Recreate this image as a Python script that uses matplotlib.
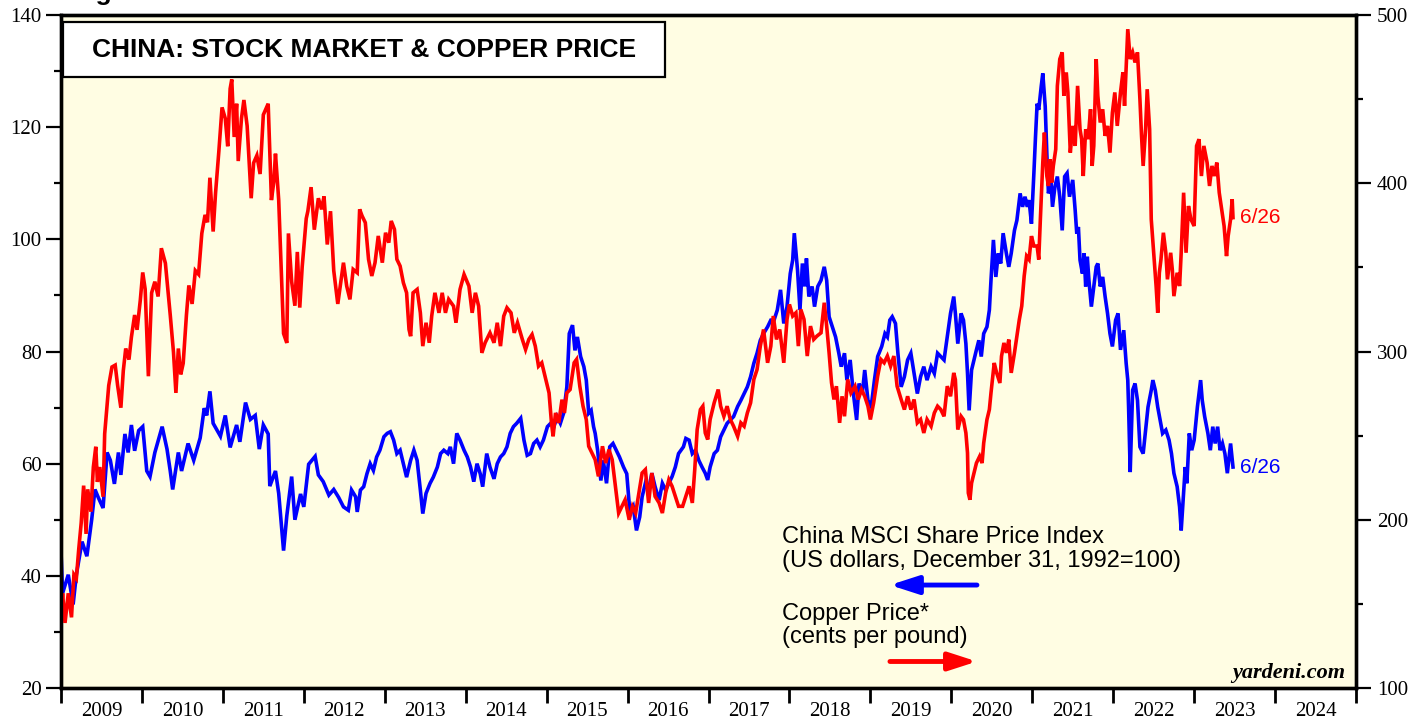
import matplotlib.pyplot as plt
from matplotlib.patches import Rectangle, FancyArrowPatch
from matplotlib.ticker import MultipleLocator, FixedLocator, NullFormatter

# China MSCI share price index (left axis), decimal years
msci_years = [
    2009.00, 2009.02, 2009.09, 2009.15, 2009.19, 2009.26, 2009.32, 2009.38, 2009.42, 2009.46,
    2009.52, 2009.57, 2009.61, 2009.66, 2009.71, 2009.74, 2009.79, 2009.83, 2009.87, 2009.91,
    2009.96, 2010.01, 2010.06, 2010.10, 2010.16, 2010.25, 2010.31, 2010.35, 2010.38, 2010.45,
    2010.49, 2010.57, 2010.64, 2010.72, 2010.77, 2010.80, 2010.84, 2010.88, 2010.97, 2011.03,
    2011.09, 2011.17, 2011.21, 2011.28, 2011.34, 2011.40, 2011.45, 2011.50, 2011.56, 2011.58,
    2011.65, 2011.69, 2011.75, 2011.79, 2011.85, 2011.89, 2011.96, 2012.00, 2012.06, 2012.14,
    2012.18, 2012.24, 2012.31, 2012.37, 2012.43, 2012.49, 2012.55, 2012.59, 2012.64, 2012.66,
    2012.70, 2012.74, 2012.78, 2012.82, 2012.86, 2012.90, 2012.94, 2012.99, 2013.03, 2013.07,
    2013.11, 2013.15, 2013.19, 2013.23, 2013.27, 2013.32, 2013.36, 2013.40, 2013.44, 2013.47,
    2013.51, 2013.56, 2013.60, 2013.65, 2013.69, 2013.73, 2013.78, 2013.81, 2013.85, 2013.89,
    2013.93, 2013.98, 2014.02, 2014.06, 2014.10, 2014.14, 2014.18, 2014.21, 2014.26, 2014.30,
    2014.35, 2014.39, 2014.43, 2014.47, 2014.51, 2014.55, 2014.59, 2014.63, 2014.68, 2014.72,
    2014.76, 2014.80, 2014.84, 2014.88, 2014.92, 2014.96, 2015.01, 2015.05, 2015.09, 2015.13,
    2015.17, 2015.21, 2015.25, 2015.28, 2015.32, 2015.35, 2015.38, 2015.42, 2015.46, 2015.49,
    2015.52, 2015.55, 2015.58, 2015.60, 2015.63, 2015.67, 2015.70, 2015.74, 2015.78, 2015.82,
    2015.86, 2015.90, 2015.95, 2015.99, 2016.03, 2016.07, 2016.11, 2016.15, 2016.18, 2016.22,
    2016.26, 2016.30, 2016.34, 2016.39, 2016.43, 2016.47, 2016.51, 2016.55, 2016.59, 2016.63,
    2016.69, 2016.72, 2016.76, 2016.80, 2016.84, 2016.88, 2016.92, 2016.96, 2016.99, 2017.02,
    2017.07, 2017.11, 2017.15, 2017.19, 2017.23, 2017.27, 2017.31, 2017.36, 2017.40, 2017.44,
    2017.48, 2017.52, 2017.56, 2017.60, 2017.64, 2017.68, 2017.73, 2017.77, 2017.81, 2017.85,
    2017.89, 2017.93, 2017.97, 2018.01, 2018.04, 2018.06, 2018.10, 2018.13, 2018.16, 2018.19,
    2018.21, 2018.24, 2018.28, 2018.31, 2018.35, 2018.39, 2018.43, 2018.46, 2018.49, 2018.53,
    2018.57, 2018.61, 2018.64, 2018.68, 2018.71, 2018.75, 2018.79, 2018.83, 2018.86, 2018.90,
    2018.93, 2018.97, 2019.01, 2019.05, 2019.09, 2019.14, 2019.18, 2019.21, 2019.24, 2019.27,
    2019.31, 2019.34, 2019.38, 2019.42, 2019.46, 2019.50, 2019.54, 2019.58, 2019.62, 2019.66,
    2019.70, 2019.75, 2019.79, 2019.83, 2019.87, 2019.91, 2019.95, 2019.99, 2020.03, 2020.05,
    2020.08, 2020.12, 2020.15, 2020.18, 2020.20, 2020.22, 2020.25, 2020.28, 2020.31, 2020.34,
    2020.37, 2020.40, 2020.44, 2020.47, 2020.49, 2020.52, 2020.55, 2020.58, 2020.61, 2020.64,
    2020.68, 2020.71, 2020.74, 2020.78, 2020.81, 2020.85, 2020.88, 2020.91, 2020.94, 2020.96,
    2020.99, 2021.02, 2021.04, 2021.06, 2021.08, 2021.11, 2021.13, 2021.16, 2021.18, 2021.20,
    2021.23, 2021.25, 2021.28, 2021.31, 2021.34, 2021.37, 2021.40, 2021.43, 2021.46, 2021.50,
    2021.53, 2021.55, 2021.57, 2021.59, 2021.62, 2021.64, 2021.66, 2021.68, 2021.70, 2021.73,
    2021.76, 2021.79, 2021.81, 2021.84, 2021.87, 2021.90, 2021.93, 2021.96, 2021.99, 2022.03,
    2022.06, 2022.09, 2022.13, 2022.16, 2022.18, 2022.19, 2022.21, 2022.24, 2022.27, 2022.30,
    2022.33, 2022.37, 2022.40, 2022.43, 2022.47, 2022.49, 2022.52, 2022.55, 2022.58, 2022.61,
    2022.65, 2022.69, 2022.72, 2022.75, 2022.79, 2022.82, 2022.84, 2022.87, 2022.89, 2022.91,
    2022.94, 2022.97, 2023.00, 2023.04, 2023.06, 2023.08, 2023.10, 2023.13, 2023.17, 2023.20,
    2023.23, 2023.26, 2023.29, 2023.32, 2023.35, 2023.38, 2023.41, 2023.45, 2023.48,
]
msci_values = [
    44.5, 36.9, 40.2, 34.9, 40.2, 46.1, 43.5, 50.1, 55.4, 54.0,
    52.1, 62.0, 60.6, 56.4, 62.0, 58.0, 65.3, 62.0, 66.9, 62.3,
    65.9, 66.6, 58.7, 57.7, 62.0, 66.6, 62.6, 58.7, 55.4, 62.0,
    58.7, 63.6, 60.6, 64.6, 69.9, 68.6, 72.9, 67.2, 64.9, 68.6,
    62.9, 66.9, 63.9, 70.9, 67.9, 68.6, 62.6, 66.9, 65.3, 56.0,
    58.7, 54.7, 44.5, 50.7, 57.7, 50.0, 54.6, 52.3, 59.9, 61.3,
    58.0, 56.8, 54.4, 55.4, 54.0, 52.3, 51.7, 55.3, 54.1, 51.4,
    55.3, 55.9, 58.2, 60.0, 58.8, 61.2, 62.4, 64.8, 65.4, 65.7,
    64.2, 61.8, 62.4, 60.0, 57.6, 60.6, 62.4, 60.6, 55.3, 51.1,
    54.7, 56.5, 57.6, 59.4, 61.8, 62.4, 61.8, 63.0, 60.0, 65.4,
    64.2, 62.4, 61.2, 59.4, 56.8, 60.0, 58.2, 55.9, 61.8, 59.4,
    57.3, 60.0, 61.2, 61.8, 63.0, 65.4, 66.6, 67.2, 68.1, 64.2,
    61.5, 61.8, 63.6, 64.2, 63.0, 64.2, 66.6, 67.2, 66.6, 68.4,
    67.2, 69.0, 73.7, 83.2, 84.7, 80.2, 82.6, 79.1, 77.3, 74.9,
    69.0, 69.5, 66.6, 65.4, 62.4, 57.0, 60.6, 56.5, 63.0, 63.6,
    62.4, 61.2, 59.4, 58.2, 51.1, 52.3, 48.1, 50.5, 54.1, 56.5,
    55.3, 58.3, 55.9, 53.5, 56.5, 55.3, 56.5, 57.7, 59.4, 61.8,
    63.0, 64.5, 64.2, 61.8, 62.4, 60.6, 59.4, 58.3, 57.1, 59.4,
    61.8, 62.4, 64.8, 66.0, 67.2, 67.8, 68.4, 70.2, 71.3, 72.5,
    73.7, 75.5, 77.9, 79.7, 82.0, 83.2, 84.4, 85.6, 85.6, 87.4,
    91.0, 85.0, 88.0, 93.9, 96.3, 101.1, 94.5, 87.4, 95.7, 91.6,
    96.6, 89.8, 91.6, 88.0, 91.6, 92.7, 95.1, 92.7, 86.2, 84.4,
    82.6, 79.7, 77.3, 79.7, 74.9, 78.5, 72.5, 67.8, 74.3, 72.5,
    76.7, 71.3, 70.2, 74.9, 79.1, 80.9, 83.2, 82.6, 85.6, 86.2,
    85.0, 79.7, 73.7, 75.5, 78.5, 79.7, 76.1, 72.5, 75.5, 77.3,
    74.9, 77.3, 76.1, 79.7, 79.1, 78.5, 82.6, 86.8, 89.8, 86.8,
    81.4, 86.8, 85.6, 81.4, 76.1, 69.5, 76.7, 78.5, 80.3, 82.0,
    79.1, 83.2, 84.4, 87.4, 92.7, 99.9, 93.3, 97.5, 95.7, 101.1,
    97.5, 95.1, 97.5, 101.6, 103.4, 108.2, 105.8, 107.6, 105.8, 107.0,
    102.8, 111.8, 118.3, 124.2, 123.1, 127.2, 129.6, 123.7, 115.3, 108.2,
    110.6, 105.8, 109.4, 111.2, 107.6, 101.6, 111.2, 111.8, 107.6, 110.6,
    105.2, 101.0, 102.2, 96.3, 93.9, 97.5, 91.6, 96.9, 92.7, 88.0,
    91.6, 95.1, 95.7, 91.6, 93.3, 89.8, 86.8, 83.2, 80.9, 85.6,
    86.8, 80.3, 83.8, 77.9, 74.9, 70.1, 58.5, 73.1, 74.3, 71.3,
    63.0, 61.8, 66.0, 70.1, 73.1, 74.9, 73.1, 70.1, 67.8, 65.4,
    66.0, 64.2, 61.8, 58.3, 55.9, 52.3, 48.1, 54.7, 59.4, 56.5,
    65.4, 62.4, 64.2, 70.1, 72.5, 74.9, 71.3, 68.4, 65.4, 62.4,
    66.6, 63.6, 66.6, 62.4, 63.6, 61.8, 58.3, 63.6, 59.4,
]

# copper price, cents per pound (right axis)
copper_years = [
    2009.00, 2009.02, 2009.05, 2009.09, 2009.13, 2009.16, 2009.19, 2009.22, 2009.25, 2009.28,
    2009.31, 2009.33, 2009.37, 2009.40, 2009.43, 2009.45, 2009.48, 2009.52, 2009.54, 2009.59,
    2009.63, 2009.67, 2009.70, 2009.74, 2009.77, 2009.80, 2009.84, 2009.87, 2009.91, 2009.94,
    2009.98, 2010.01, 2010.04, 2010.08, 2010.12, 2010.16, 2010.20, 2010.24, 2010.29, 2010.35,
    2010.39, 2010.42, 2010.45, 2010.48, 2010.51, 2010.55, 2010.58, 2010.62, 2010.66, 2010.70,
    2010.74, 2010.78, 2010.81, 2010.84, 2010.88, 2010.91, 2010.95, 2010.99, 2011.03, 2011.06,
    2011.09, 2011.11, 2011.14, 2011.17, 2011.19, 2011.23, 2011.26, 2011.30, 2011.35, 2011.38,
    2011.42, 2011.46, 2011.50, 2011.56, 2011.60, 2011.63, 2011.65, 2011.69, 2011.72, 2011.75,
    2011.79, 2011.81, 2011.85, 2011.89, 2011.92, 2011.95, 2011.98, 2012.03, 2012.05, 2012.09,
    2012.13, 2012.18, 2012.22, 2012.25, 2012.29, 2012.33, 2012.37, 2012.42, 2012.49, 2012.53,
    2012.57, 2012.61, 2012.66, 2012.69, 2012.72, 2012.76, 2012.80, 2012.84, 2012.88, 2012.92,
    2012.97, 2013.01, 2013.05, 2013.08, 2013.12, 2013.15, 2013.19, 2013.23, 2013.27, 2013.30,
    2013.32, 2013.35, 2013.40, 2013.44, 2013.47, 2013.51, 2013.55, 2013.58, 2013.62, 2013.67,
    2013.71, 2013.75, 2013.79, 2013.85, 2013.88, 2013.93, 2013.98, 2014.04, 2014.08, 2014.12,
    2014.16, 2014.20, 2014.24, 2014.30, 2014.35, 2014.39, 2014.43, 2014.47, 2014.51, 2014.56,
    2014.60, 2014.64, 2014.70, 2014.74, 2014.78, 2014.82, 2014.86, 2014.90, 2014.94, 2014.99,
    2015.03, 2015.06, 2015.08, 2015.11, 2015.15, 2015.19, 2015.22, 2015.25, 2015.29, 2015.34,
    2015.37, 2015.41, 2015.45, 2015.49, 2015.52, 2015.56, 2015.60, 2015.64, 2015.69, 2015.73,
    2015.77, 2015.81, 2015.85, 2015.89, 2015.93, 2015.97, 2016.02, 2016.06, 2016.10, 2016.14,
    2016.18, 2016.22, 2016.26, 2016.30, 2016.34, 2016.39, 2016.43, 2016.47, 2016.51, 2016.55,
    2016.59, 2016.63, 2016.68, 2016.72, 2016.76, 2016.80, 2016.83, 2016.86, 2016.90, 2016.93,
    2016.96, 2016.99, 2017.02, 2017.07, 2017.12, 2017.15, 2017.19, 2017.23, 2017.27, 2017.31,
    2017.36, 2017.40, 2017.44, 2017.48, 2017.52, 2017.56, 2017.60, 2017.64, 2017.68, 2017.73,
    2017.77, 2017.80, 2017.84, 2017.88, 2017.93, 2017.97, 2018.00, 2018.04, 2018.08, 2018.11,
    2018.14, 2018.18, 2018.22, 2018.26, 2018.30, 2018.34, 2018.39, 2018.43, 2018.46, 2018.49,
    2018.52, 2018.55, 2018.58, 2018.62, 2018.65, 2018.68, 2018.72, 2018.76, 2018.81, 2018.85,
    2018.89, 2018.93, 2018.97, 2019.00, 2019.04, 2019.09, 2019.13, 2019.17, 2019.21, 2019.25,
    2019.29, 2019.33, 2019.38, 2019.42, 2019.46, 2019.50, 2019.54, 2019.58, 2019.62, 2019.66,
    2019.70, 2019.75, 2019.79, 2019.83, 2019.87, 2019.91, 2019.95, 2019.99, 2020.03, 2020.05,
    2020.08, 2020.12, 2020.15, 2020.18, 2020.20, 2020.21, 2020.23, 2020.25, 2020.28, 2020.31,
    2020.35, 2020.38, 2020.40, 2020.44, 2020.47, 2020.49, 2020.53, 2020.56, 2020.60, 2020.62,
    2020.65, 2020.68, 2020.71, 2020.74, 2020.78, 2020.81, 2020.84, 2020.87, 2020.90, 2020.93,
    2020.96, 2020.99, 2021.02, 2021.06, 2021.08, 2021.10, 2021.12, 2021.13, 2021.15, 2021.18,
    2021.20, 2021.22, 2021.24, 2021.26, 2021.29, 2021.31, 2021.34, 2021.37, 2021.39, 2021.42,
    2021.44, 2021.47, 2021.50, 2021.53, 2021.56, 2021.59, 2021.61, 2021.63, 2021.66, 2021.69,
    2021.72, 2021.74, 2021.76, 2021.79, 2021.81, 2021.84, 2021.87, 2021.90, 2021.93, 2021.96,
    2021.99, 2022.02, 2022.05, 2022.09, 2022.12, 2022.14, 2022.18, 2022.21, 2022.24, 2022.27,
    2022.30, 2022.33, 2022.35, 2022.37, 2022.40, 2022.42, 2022.45, 2022.47, 2022.50, 2022.53,
    2022.55, 2022.57, 2022.59, 2022.62, 2022.65, 2022.67, 2022.71, 2022.73, 2022.75, 2022.79,
    2022.82, 2022.84, 2022.87, 2022.90, 2022.93, 2022.96, 2023.00, 2023.03, 2023.06, 2023.09,
    2023.12, 2023.16, 2023.19, 2023.22, 2023.25, 2023.28, 2023.31, 2023.34, 2023.37, 2023.40,
    2023.42, 2023.45, 2023.47, 2023.48,
]
copper_values = [
    143.1, 156.3, 138.7, 156.3, 142.0, 167.4, 165.2, 182.8, 198.2, 220.3,
    191.6, 218.1, 204.8, 231.3, 243.4, 222.5, 231.3, 213.7, 251.1, 279.8,
    290.8, 291.9, 279.8, 266.6, 288.6, 301.8, 295.2, 308.5, 321.7, 312.9,
    330.5, 347.0, 337.1, 285.3, 334.9, 341.5, 332.7, 361.4, 352.5, 321.7,
    299.6, 275.4, 301.8, 286.4, 293.0, 321.7, 339.3, 328.3, 348.1, 345.9,
    370.2, 381.2, 376.8, 403.3, 371.3, 394.4, 418.7, 445.1, 438.5, 422.0,
    456.2, 461.7, 427.5, 447.3, 413.2, 438.5, 449.5, 434.1, 391.1, 412.1,
    416.5, 405.5, 440.7, 447.3, 390.0, 401.1, 417.6, 390.0, 350.3, 310.7,
    305.1, 370.2, 341.5, 327.2, 359.2, 326.1, 350.3, 379.0, 383.4, 397.7,
    372.4, 391.1, 384.5, 392.2, 363.6, 383.4, 348.1, 328.3, 352.8, 338.9,
    331.0, 348.8, 346.8, 384.5, 380.6, 376.6, 354.8, 344.9, 352.8, 368.7,
    352.8, 370.6, 364.7, 377.6, 372.6, 354.8, 350.8, 340.9, 334.9, 313.1,
    309.1, 334.9, 336.9, 323.0, 303.2, 317.1, 305.2, 321.0, 334.9, 323.0,
    334.9, 323.0, 331.0, 327.0, 317.1, 336.9, 345.8, 338.9, 323.0, 334.9,
    327.0, 299.2, 305.2, 311.1, 305.2, 317.1, 303.2, 321.0, 326.0, 323.0,
    311.1, 317.1, 307.2, 301.2, 307.2, 310.1, 303.2, 291.3, 293.3, 283.4,
    275.4, 257.6, 249.6, 263.5, 257.6, 271.4, 263.5, 275.4, 277.4, 293.3,
    295.3, 279.4, 267.5, 259.5, 243.7, 239.7, 235.7, 225.8, 243.7, 233.7,
    241.7, 235.7, 219.9, 204.0, 208.0, 211.9, 200.0, 208.0, 204.0, 215.9,
    227.8, 229.8, 210.0, 227.8, 213.9, 210.0, 204.0, 215.9, 223.8, 219.9,
    213.9, 208.0, 208.0, 213.9, 219.9, 210.0, 229.8, 253.6, 265.5, 267.5,
    251.6, 247.7, 259.6, 269.5, 277.4, 267.5, 261.5, 267.5, 259.6, 255.6,
    249.6, 257.6, 255.6, 263.5, 269.5, 283.4, 289.3, 303.2, 313.1, 293.3,
    303.2, 321.1, 307.2, 313.1, 293.3, 319.1, 328.0, 321.1, 323.0, 303.2,
    325.0, 319.1, 297.3, 315.1, 307.2, 309.2, 311.1, 329.0, 315.1, 299.2,
    281.4, 271.5, 279.4, 257.6, 273.4, 261.5, 283.4, 275.4, 279.4, 271.5,
    277.4, 273.4, 267.5, 259.6, 269.5, 285.4, 295.3, 293.3, 297.3, 291.3,
    297.3, 279.4, 271.5, 265.5, 273.4, 265.5, 271.5, 257.6, 259.6, 251.6,
    259.6, 255.6, 263.5, 267.5, 265.5, 261.5, 279.4, 273.4, 287.3, 283.3,
    253.6, 261.5, 259.5, 251.6, 239.7, 215.9, 211.9, 221.8, 227.8, 233.7,
    237.7, 233.7, 245.6, 259.5, 265.5, 275.4, 293.2, 287.3, 281.3, 297.2,
    305.1, 299.2, 307.1, 287.3, 299.2, 309.1, 319.0, 327.0, 344.8, 356.7,
    354.7, 368.6, 362.7, 362.7, 354.7, 378.6, 400.4, 412.3, 430.1, 404.3,
    398.4, 414.3, 400.4, 410.3, 420.2, 457.9, 473.8, 477.8, 452.0, 465.9,
    454.0, 418.2, 434.1, 422.2, 457.9, 432.1, 426.2, 404.3, 432.1, 426.2,
    444.0, 410.3, 422.2, 473.8, 452.0, 436.1, 444.0, 428.2, 434.1, 418.2,
    442.0, 454.0, 434.1, 454.0, 465.9, 446.0, 491.6, 473.8, 477.8, 471.8,
    477.8, 450.0, 428.2, 410.3, 432.1, 455.9, 432.1, 378.6, 358.7, 338.9,
    323.0, 346.8, 354.7, 370.6, 358.7, 342.9, 358.7, 348.8, 332.9, 346.8,
    338.9, 358.7, 394.4, 358.7, 386.5, 378.6, 374.6, 422.2, 426.2, 404.3,
    422.2, 412.3, 398.4, 410.3, 404.3, 412.3, 394.4, 384.5, 374.6, 356.7,
    368.6, 378.6, 390.5, 379.6,
]

year_labels = [str(y) for y in range(2009, 2025)]
last_date_label = "6/26"

plt.rcParams['font.family'] = ['Liberation Sans', 'DejaVu Sans']

fig = plt.figure(figsize=(14.28, 7.19), dpi=100)
ax = fig.add_axes([0.0427, 0.0431, 0.9069, 0.9360])
ax2 = ax.twinx()
ax.set_facecolor('#FFFDE3')

ax.plot(msci_years, msci_values, color='#0000FF', lw=2.6, solid_joinstyle='miter')
ax2.plot(copper_years, copper_values, color='#FF0000', lw=2.6, solid_joinstyle='miter')

ax.set_xlim(2009, 2025)
ax.set_ylim(20, 140)
ax2.set_ylim(100, 500)

serif = dict(family='Liberation Serif', size=15)

# year ticks at boundaries, labels centred on mid-year
ax.xaxis.set_major_locator(FixedLocator(range(2009, 2026)))
ax.xaxis.set_major_formatter(NullFormatter())
ax.xaxis.set_minor_locator(FixedLocator([y + 0.5 for y in range(2009, 2025)]))
ax.set_xticklabels(year_labels, minor=True, fontdict=serif)
ax.tick_params(axis='x', which='major', direction='out', length=11, width=2)
ax.tick_params(axis='x', which='minor', length=0, pad=10)

ax.yaxis.set_major_locator(MultipleLocator(20))
ax.yaxis.set_minor_locator(MultipleLocator(10))
ax.tick_params(axis='y', which='major', length=11, width=1.6, pad=3)
ax.tick_params(axis='y', which='minor', length=5, width=1.6)
for lab in ax.get_yticklabels():
    lab.set_fontfamily('Liberation Serif')
    lab.set_fontsize(15)

ax2.yaxis.set_major_locator(MultipleLocator(100))
ax2.yaxis.set_minor_locator(MultipleLocator(50))
ax2.tick_params(axis='y', which='major', length=11, width=1.6, pad=4)
ax2.tick_params(axis='y', which='minor', length=5, width=1.6)
for lab in ax2.get_yticklabels():
    lab.set_fontfamily('Liberation Serif')
    lab.set_fontsize(15)

for a in (ax, ax2):
    for sp in a.spines.values():
        sp.set_linewidth(2.4)
        sp.set_color('black')

# title box
ax2.add_patch(Rectangle((0.0015, 0.9079), 0.4649, 0.0817, transform=ax2.transAxes,
                        facecolor='white', edgecolor='black', lw=1.6, zorder=5))
ax2.text(0.234, 0.9487, 'CHINA: STOCK MARKET & COPPER PRICE', transform=ax2.transAxes,
         ha='center', va='center', fontsize=19, fontweight='bold', zorder=6)

# legend text and arrows
ax2.text(0.5568, 0.2155, 'China MSCI Share Price Index', transform=ax2.transAxes,
         fontsize=17, va='baseline')
ax2.text(0.5568, 0.1798, '(US dollars, December 31, 1992=100)', transform=ax2.transAxes,
         fontsize=17, va='baseline')
ax2.text(0.5568, 0.1010, 'Copper Price*', transform=ax2.transAxes,
         fontsize=17, va='baseline')
ax2.text(0.5568, 0.0669, '(cents per pound)', transform=ax2.transAxes,
         fontsize=17, va='baseline')

ax2.add_patch(FancyArrowPatch((0.7073, 0.1530), (0.6401, 0.1530), transform=ax2.transAxes,
                              arrowstyle='-|>,head_length=17,head_width=5.5', mutation_scale=1,
                              color='#0000FF', lw=3.5, shrinkA=0, shrinkB=0))
ax2.add_patch(FancyArrowPatch((0.6401, 0.0394), (0.7073, 0.0394), transform=ax2.transAxes,
                              arrowstyle='-|>,head_length=17,head_width=5.5', mutation_scale=1,
                              color='#FF0000', lw=3.5, shrinkA=0, shrinkB=0))

ax2.text(0.9915, 0.0149, 'yardeni.com', transform=ax2.transAxes, ha='right', va='baseline',
         family='Liberation Serif', fontsize=16, fontweight='bold', style='italic')

# end-of-series date labels
ax.annotate(last_date_label, xy=(msci_years[-1], msci_values[-1]), xytext=(5, 0),
            textcoords='offset points', va='center', color='#0000FF', fontsize=15)
ax2.annotate(last_date_label, xy=(copper_years[-1], copper_values[-1]), xytext=(5, 0),
             textcoords='offset points', va='center', color='#FF0000', fontsize=15)

# caption cut off at the top edge, as in the source image
fig.text(0.0504, 1.0, 'Figure 3.', fontsize=19, fontweight='bold', va='baseline')

fig.savefig('out.png', dpi=100)
